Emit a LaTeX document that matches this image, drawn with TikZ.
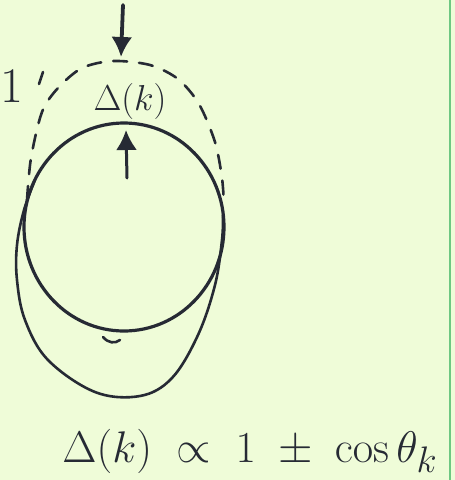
\documentclass[tikz,border=0pt]{standalone}
\usepackage{graphicx}
\usetikzlibrary{arrows.meta}
\definecolor{papel}{RGB}{239,252,216}
\definecolor{tinta}{RGB}{38,42,52}
\definecolor{margen}{RGB}{110,200,130}
\begin{document}
\begin{tikzpicture}[x=1pt, y=-1pt, >={Latex[length=20pt,width=21pt]}, line cap=round,
  trazo/.style={tinta, line width=2.6pt},
  rotulo/.style={tinta, inner sep=0pt, font=\Huge}]
% Fondo
\fill[papel] (0,0) rectangle (455,480);
\useasboundingbox (0,0) rectangle (455,480);
\draw[margen, line width=2.5pt] (450,0) -- (450,480);
% Superficie de Fermi
\draw[trazo, line width=3.2pt] (124,227) ellipse [x radius=100, y radius=104];
% Gap deformado (abajo)
\draw[trazo] plot[smooth, tension=0.6] coordinates {(35,180) (24,210) (17,245) (17,280) (25,320) (48,360) (95,392) (140,396) (172,378) (198,335) (215,285) (222,240) (223,215)};
% Gap deformado (arriba)
\draw[trazo, dash pattern=on 14pt off 12pt] plot[smooth] coordinates {(27,200) (31,158) (42,112) (58,88) (82,68) (113,61) (150,65) (178,79) (199,104) (215,142) (222,178) (224,205)};
\draw[trazo] (43,72) -- (39,84);
\draw[trazo] (103,337) .. controls (108,343) and (115,344) .. (120,340);
% Flechas
\coordinate (flechaA) at (123,5);
\coordinate (flechaB) at (121,57);
\coordinate (flechaC) at (127,178);
\coordinate (flechaD) at (126,130);
\draw[trazo, line width=3.8pt, ->] (flechaA) -- (flechaB);
\draw[trazo, line width=3pt, ->] (flechaC) -- (flechaD);
% Rotulos
\node[rotulo] (gap) at (130,101) {\scalebox{1.45}{$\Delta(k)$}};
\node[rotulo] (uno) at (12,86) {\scalebox{2}{$1$}};
\node[rotulo, anchor=base] (ley) at (250,462) {\scalebox{1.78}{$\Delta(k) \;\propto\; 1 \;\pm\; \cos\theta_k$}};
\end{tikzpicture}
\end{document}
